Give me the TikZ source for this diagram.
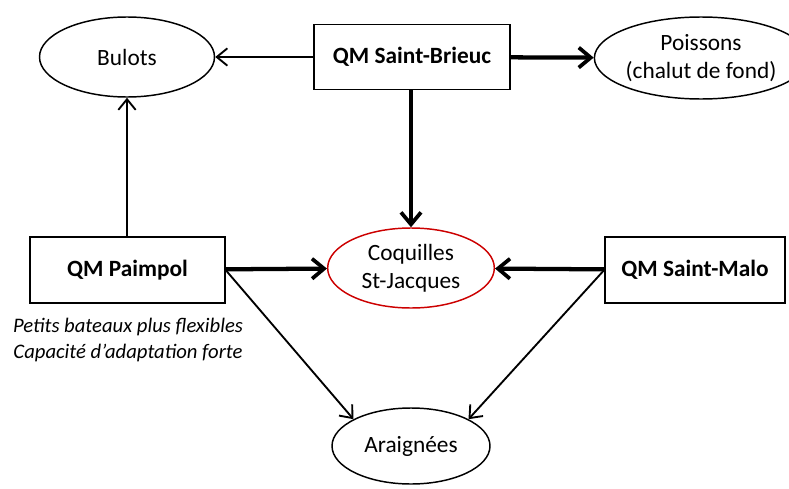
\documentclass[tikz,border=0pt]{standalone}
\usepackage{fontspec}
\setmainfont{Carlito}
\usetikzlibrary{shapes.geometric,arrows.meta}
\begin{document}
\begin{tikzpicture}[x=0.75pt,y=-0.75pt,
  every node/.style={font=\fontsize{17.5}{21}\selectfont, align=center},
  oval/.style={draw, ellipse, line width=1.1pt, inner sep=0pt},
  qbox/.style={draw, rectangle, line width=1.2pt, inner sep=0pt, font=\fontsize{17.5}{21}\selectfont\bfseries},
  thin/.style={line width=1.4pt, -{Straight Barb[length=8pt,width=13pt,line width=1.4pt]}},
  thickarr/.style={line width=3.2pt, -{Straight Barb[length=9pt,width=15pt,line width=2.8pt]}},
  note/.style={font=\fontsize{15.5}{20}\selectfont\itshape}
]
\path[use as bounding box] (0,0) rectangle (789,489);
\node[oval, minimum width=131.25pt, minimum height=60pt] (bulots) at (127,57) {Bulots};
\node[qbox, minimum width=147pt, minimum height=48.75pt] (brieuc) at (412,57) {QM Saint-Brieuc};
\node[oval, minimum width=126pt, minimum height=61.5pt] (poissons) at (701,58) {Poissons\\(chalut de fond)};
\node[oval, draw=red!80!black, minimum width=125pt, minimum height=60pt] (coq) at (411,268) {Coquilles\\St-Jacques};
\node[qbox, minimum width=146pt, minimum height=49.5pt] (paimpol) at (127.5,270) {QM Paimpol};
\node[qbox, minimum width=135pt, minimum height=49.5pt] (malo) at (695,270) {QM Saint-Malo};
\node[oval, minimum width=118.5pt, minimum height=57pt] (araig) at (411,446) {Araignées};
\node[note] (n1) at (128,340) {Petits bateaux plus flexibles\\Capacité d’adaptation forte};

\draw[thin] (brieuc) -- (bulots);
\draw[thickarr] (brieuc) -- (poissons);
\draw[thickarr] (brieuc.south -| coq) -- (coq);
\draw[thin] (paimpol.north -| bulots) -- (bulots);
\draw[thickarr] (paimpol) -- (coq);
\draw[thickarr] (malo) -- (coq);
\draw[thin] (paimpol.east) -- (araig.155);
\draw[thin] (malo.west) -- (araig.25);
\end{tikzpicture}
\end{document}
